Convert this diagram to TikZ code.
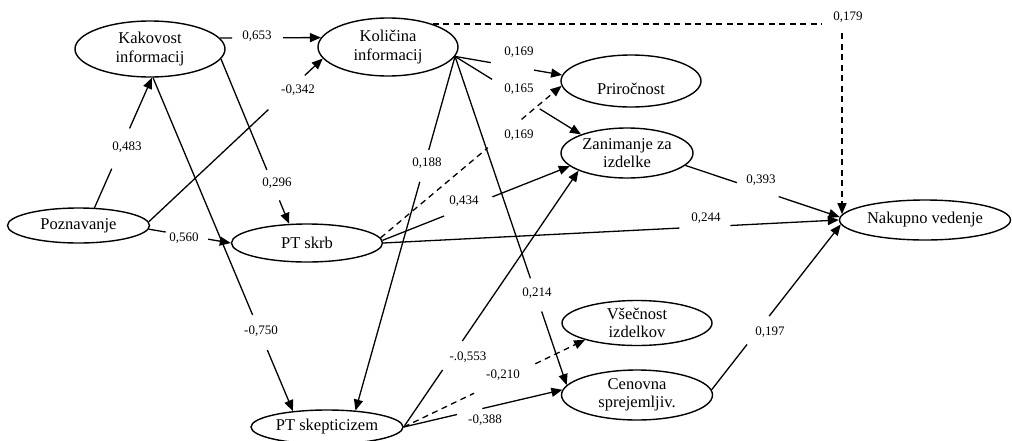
\documentclass[tikz,border=0pt]{standalone}
\usepackage{fontspec}
\setmainfont{Liberation Serif}
\usetikzlibrary{shapes.geometric,arrows.meta,calc}
% #1 extra style, #2 source, #3 target, #4 label node, #5 gap before label, #6 gap after label
\newcommand{\gapedge}[6][]{%
  \coordinate (gp) at ($(#2)!(#4)!(#3)$);
  \draw[con,#1] (#2) -- ($(gp)!#5!(#2)$);
  \draw[arr,#1] ($(gp)!#6!(#3)$) -- (#3);}
\begin{document}
\begin{tikzpicture}[x=1pt,y=-1pt,
  ell/.style={ellipse,draw,line width=1.4pt,inner sep=0pt,align=center,font=\fontsize{16.5}{18.5}\selectfont},
  lab/.style={inner sep=0pt,font=\fontsize{13}{15}\selectfont},
  con/.style={line width=1.3pt},
  arr/.style={con,-{Triangle[length=11pt,width=9pt]}},
  dsh/.style={dash pattern=on 6pt off 4.5pt}]
\fill[white] (0,0) rectangle (1012,440);
\useasboundingbox (0,0) rectangle (1012,440);

% constructs
\node[ell,minimum width=150pt,minimum height=56pt] (kak) at (150,49) {Kakovost\\informacij};
\node[ell,minimum width=140pt,minimum height=58pt] (kol) at (388,47) {Količina\\informacij};
\node[ell,minimum width=142pt,minimum height=35pt] (poz) at (78.5,225.5) {Poznavanje};
\node[ell,minimum width=151pt,minimum height=38pt] (skrb) at (307,243) {PT skrb};
\node[ell,minimum width=152pt,minimum height=34pt] (skep) at (327,427) {PT skepticizem};
\node[ell,minimum width=140pt,minimum height=52pt,text height=31pt,text depth=3.5pt] (pri) at (631,81) {Priročnost};
\node[ell,minimum width=132pt,minimum height=50pt] (zan) at (627,153) {Zanimanje za\\izdelke};
\node[ell,minimum width=171pt,minimum height=40pt] (nak) at (925,220) {Nakupno vedenje};
\node[ell,minimum width=150pt,minimum height=45pt] (vse) at (637,323) {Všečnost\\izdelkov};
\node[ell,minimum width=151pt,minimum height=50pt] (cen) at (637,395) {Cenovna\\sprejemljiv.};

% path coefficients
\node[lab] (l653) at (257,36) {0,653};
\node[lab] (l483) at (127,147) {0,483};
\node[lab] (l342) at (298,90) {-0,342};
\node[lab] (l296) at (277,183) {0,296};
\node[lab] (l750) at (261,331) {-0,750};
\node[lab] (l560) at (184,238) {0,560};
\node[lab] (l188) at (427,163) {0,188};
\node[lab] (l214) at (537,293) {0,214};
\node[lab] (l169a) at (519,52) {0,169};
\node[lab] (l165) at (519,89) {0,165};
\node[lab] (l169b) at (519,135) {0,169};
\node[lab] (l434) at (464,201) {0,434};
\node[lab] (l244) at (706,218) {0,244};
\node[lab] (l553) at (468,357) {-.0,553};
\node[lab] (l210) at (503,375) {-0,210};
\node[lab] (l388) at (485,420) {-0,388};
\node[lab] (l393) at (761,180) {0,393};
\node[lab] (l197) at (770,332) {0,197};
\node[lab] (l179) at (848,17) {0,179};

% connectors
\gapedge{kak.9}{kol.172}{l653}{25pt}{26pt}
\gapedge{poz.48}{kak.-86}{l483}{26pt}{18pt}
\gapedge{poz.3}{kol.190}{l342}{35pt}{15pt}
\gapedge{kak.-8}{skrb.133}{l296}{16pt}{17pt}
\gapedge{kak.-84}{skep.155}{l750}{18pt}{20pt}
\gapedge{poz.-3}{skrb.west}{l560}{19pt}{24pt}
\gapedge{kol.-8}{skep.30}{l188}{13pt}{20pt}
\gapedge{kol.-8}{cen.172}{l214}{16pt}{19pt}
\gapedge{kol.-8}{pri.175}{l169a}{26pt}{18pt}
\gapedge{kol.-8}{zan.158}{l165}{28pt}{28pt}
\gapedge[dsh]{skrb.4}{pri.184}{l169b}{32pt}{12pt}
\gapedge{skrb.2}{zan.193}{l434}{24pt}{28pt}
\gapedge{skrb.east}{nak.west}{l244}{27pt}{24pt}
\gapedge{skep.east}{zan.200}{l553}{25pt}{10pt}
\gapedge[dsh]{skep.east}{vse.198}{l210}{34pt}{34pt}
\gapedge{skep.east}{cen.176}{l388}{26pt}{0pt}
\gapedge{zan.-12}{nak.178}{l393}{22pt}{22pt}
\gapedge{cen.4}{nak.183}{l197}{24pt}{12pt}

% dashed elbow Količina -> Nakupno vedenje
\coordinate (h179) at (822,24);
\coordinate (v179) at (842,33);
\draw[con,dsh] (kol.27) -- (kol.27 -| h179);
\draw[arr,dsh] (v179) -- (v179 |- nak.176);
\end{tikzpicture}
\end{document}
